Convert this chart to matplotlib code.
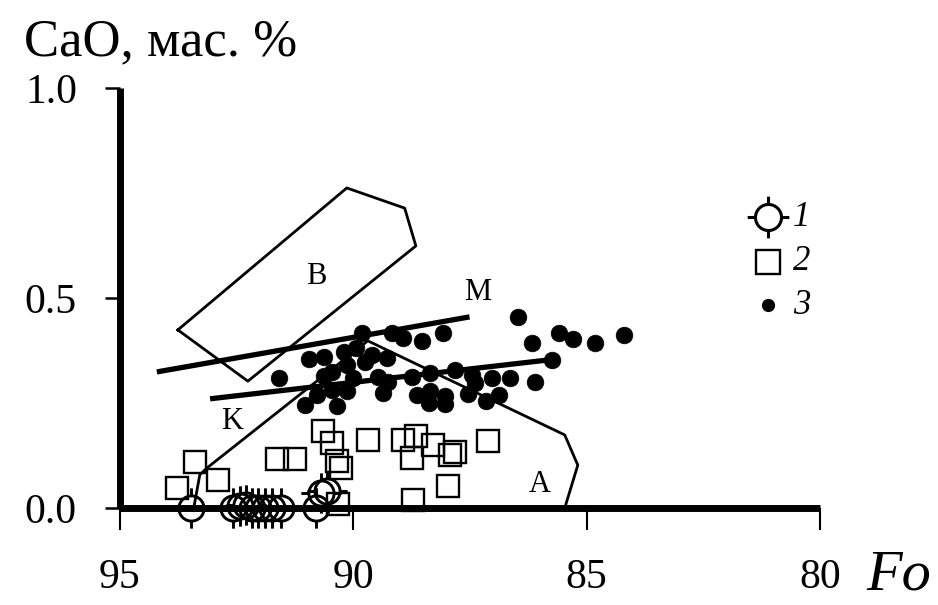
import matplotlib
matplotlib.use("Agg")
import matplotlib.pyplot as plt
from matplotlib.path import Path

# olivine compositions: Fo vs CaO (wt.%)
# 1 - open circles with crosshair ticks
fo_1 = [93.48, 92.58, 92.43, 92.30, 92.17, 92.05, 91.90, 91.75, 91.55, 90.80, 90.70, 90.57]
cao_1 = [0.0, 0.0, 0.005, 0.007, 0.0, 0.0, 0.0, 0.0, 0.0, 0.0, 0.036, 0.040]

# 2 - open squares
fo_2 = [93.78, 93.39, 92.90, 91.64, 91.25, 90.65, 90.46, 90.35, 90.27, 89.69,
        88.94, 88.66, 88.30, 88.75, 87.93, 87.83, 87.12, 87.98, 88.73, 90.33]
cao_2 = [0.048, 0.110, 0.067, 0.117, 0.117, 0.183, 0.155, 0.112, 0.095, 0.162,
         0.162, 0.171, 0.150, 0.119, 0.126, 0.133, 0.160, 0.052, 0.019, 0.010]

# 3 - filled dots
fo_3 = [91.60, 90.95, 90.63, 90.20, 89.95, 89.82, 90.14, 90.46, 90.63, 91.04,
        90.78, 90.46, 90.35, 89.75, 89.60, 89.28, 89.48, 89.26, 89.37, 89.18,
        88.94, 88.53, 88.75, 88.36, 88.64, 88.38, 88.08, 88.36, 88.04, 88.04,
        87.83, 87.46, 87.55, 87.03, 87.16, 86.65, 86.88, 86.11, 85.75, 86.18,
        86.48, 85.60, 85.30, 84.83, 84.21, 90.01, 90.14, 87.40]
cao_3 = [0.310, 0.355, 0.360, 0.371, 0.381, 0.417, 0.340, 0.324, 0.314, 0.245,
         0.269, 0.281, 0.243, 0.348, 0.364, 0.357, 0.312, 0.300, 0.274, 0.417,
         0.405, 0.398, 0.312, 0.321, 0.269, 0.250, 0.417, 0.279, 0.267, 0.248,
         0.329, 0.317, 0.271, 0.310, 0.255, 0.310, 0.269, 0.300, 0.352, 0.393,
         0.455, 0.417, 0.402, 0.393, 0.412, 0.310, 0.279, 0.298]

# composition fields
field_b_fo = [93.76, 90.14, 88.90, 88.66, 92.26, 93.76]
field_b_cao = [0.424, 0.762, 0.714, 0.624, 0.302, 0.424]
field_ka_fo = [93.42, 93.29, 93.14, 89.69, 85.47, 85.19, 85.47]
field_ka_cao = [0.0, 0.079, 0.095, 0.398, 0.174, 0.102, 0.0]

# trend lines
trend_m_fo = [94.21, 87.51]
trend_m_cao = [0.324, 0.455]
trend_low_fo = [93.07, 85.86]
trend_low_cao = [0.260, 0.352]

field_labels = ["B", "M", "K", "A"]
field_label_fo = [90.80, 87.33, 92.60, 86.01]
field_label_cao = [0.55, 0.514, 0.205, 0.057]

legend_labels = ["1", "2", "3"]

SERIF = ["Liberation Serif", "DejaVu Serif"]
plt.rcParams["font.family"] = SERIF

# circle with four short ticks outside it
tick_verts = [(0, 1), (0, 1.6), (0, -1), (0, -1.6), (1, 0), (1.6, 0), (-1, 0), (-1.6, 0)]
tick_codes = [Path.MOVETO, Path.LINETO] * 4
cross_circle = Path.make_compound_path(Path.unit_circle(), Path(tick_verts, tick_codes))

fig = plt.figure(figsize=(9.38, 6.05), dpi=100)
ax = fig.add_axes([120 / 938, 1 - 508 / 605, 700 / 938, 420 / 605])

ax.plot(field_b_fo, field_b_cao, color="black", lw=2.0, zorder=1)
ax.plot(field_ka_fo, field_ka_cao, color="black", lw=2.0, zorder=1)
ax.plot(trend_m_fo, trend_m_cao, color="black", lw=3.8, solid_capstyle="butt", zorder=1)
ax.plot(trend_low_fo, trend_low_cao, color="black", lw=3.8, solid_capstyle="butt", zorder=1)

ax.plot(fo_3, cao_3, ls="none", marker="o", ms=12, mfc="black", mec="black", mew=0.5, zorder=2)
ax.plot(fo_2, cao_2, ls="none", marker="s", ms=16, mfc="none", mec="black", mew=1.7,
        zorder=2, clip_on=False)
ax.plot(fo_1, cao_1, ls="none", marker=cross_circle, ms=29, mfc="none", mec="black", mew=2.1,
        zorder=2, clip_on=False)

for lab, x, y in zip(field_labels, field_label_fo, field_label_cao):
    ax.text(x, y, lab, fontsize=22, ha="center", va="center")

ax.set_xlim(95, 80)
ax.set_ylim(0, 1.0)
ax.set_xticks([95, 90, 85, 80])
ax.set_yticks([0.0, 0.5, 1.0])
ax.set_yticklabels(["0.0", "0.5", "1.0"])
ax.tick_params(axis="x", direction="out", length=16, width=1.5, pad=20, labelsize=30)
ax.tick_params(axis="y", direction="out", length=11, width=1.8, pad=20, labelsize=30)
for side in ["top", "right"]:
    ax.spines[side].set_visible(False)
for side in ["left", "bottom"]:
    ax.spines[side].set_linewidth(5)
    ax.spines[side].set_capstyle("butt")

fig.text(24 / 938, 1 - 55 / 605, "CaO, мас. %", fontsize=38, ha="left", va="baseline")
fig.text(866 / 938, 1 - 590 / 605, "Fo", fontsize=42, style="italic", ha="left", va="baseline")

# legend drawn by hand
leg_y = [217, 262, 305]
leg_styles = [
    dict(marker=cross_circle, ms=30, mfc="none", mec="black", mew=2.2),
    dict(marker="s", ms=17, mfc="none", mec="black", mew=1.7),
    dict(marker="o", ms=8.5, mfc="black", mec="black"),
]
for lab, y, st in zip(legend_labels, leg_y, leg_styles):
    fig.add_artist(plt.Line2D([768 / 938], [1 - y / 605], ls="none",
                              transform=fig.transFigure, **st))
    fig.text(793 / 938, 1 - y / 605, lab, fontsize=25, style="italic", ha="left", va="center")

fig.savefig("out.png", dpi=100)
